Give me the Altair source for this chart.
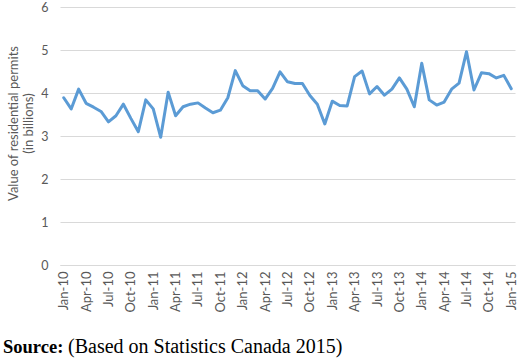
import altair as alt
import pandas as pd

# Monthly value of residential building permits, Jan 2010 - Jan 2015 (billions of dollars)
MONTHS = ["Jan", "Feb", "Mar", "Apr", "May", "Jun",
          "Jul", "Aug", "Sep", "Oct", "Nov", "Dec"]
YEARS = ["10", "11", "12", "13", "14", "15"]

values_2010 = [3.89, 3.63, 4.09, 3.76, 3.67, 3.57, 3.33, 3.47, 3.74, 3.41, 3.10, 3.84]
values_2011 = [3.63, 2.97, 4.02, 3.47, 3.68, 3.74, 3.77, 3.65, 3.54, 3.60, 3.89, 4.52]
values_2012 = [4.17, 4.05, 4.05, 3.86, 4.11, 4.49, 4.26, 4.22, 4.22, 3.94, 3.74, 3.28]
values_2013 = [3.81, 3.71, 3.70, 4.38, 4.51, 3.98, 4.15, 3.95, 4.09, 4.35, 4.09, 3.68]
values_2014 = [4.69, 3.84, 3.72, 3.79, 4.09, 4.23, 4.96, 4.07, 4.47, 4.45, 4.35, 4.41]
values_2015 = [4.10]

series = values_2010 + values_2011 + values_2012 + values_2013 + values_2014 + values_2015
labels = [f"{m}-{y}" for y in YEARS for m in MONTHS][: len(series)]
tick_labels = labels[::3]

df = pd.DataFrame({"month": labels, "value": series})

GRAY_TEXT = "#595959"
GRID = "#d9d9d9"
FONT = "Lato"

line = alt.Chart(df).mark_line(
    color="#5B9BD5", strokeWidth=3, strokeJoin="round", strokeCap="round"
).encode(
    x=alt.X(
        "month:O",
        sort=labels,
        scale=alt.Scale(type="point", padding=0.5),
        axis=alt.Axis(
            title=None,
            values=tick_labels,
            labelAngle=270,
            labelColor=GRAY_TEXT,
            labelFont=FONT,
            labelFontSize=13,
            labelPadding=6,
            ticks=False,
            domainColor=GRID,
            domainWidth=1,
            grid=False,
        ),
    ),
    y=alt.Y(
        "value:Q",
        scale=alt.Scale(domain=[0, 6], nice=False),
        axis=alt.Axis(
            title=["Value of residential permits", "(in billions)"],
            values=[0, 1, 2, 3, 4, 5, 6],
            labelColor=GRAY_TEXT,
            labelFont=FONT,
            labelFontSize=12.5,
            labelPadding=12,
            titleColor=GRAY_TEXT,
            titleFont=FONT,
            titleFontSize=13,
            titleFontWeight="normal",
            titlePadding=5,
            titleY=116,
            ticks=False,
            domain=False,
            grid=True,
            gridColor=GRID,
            gridWidth=1,
        ),
    ),
)

source_bold = alt.Chart(pd.DataFrame({"t": ["Source:"]})).mark_text(
    font="Liberation Serif", fontSize=18.5, fontWeight="bold",
    align="left", baseline="alphabetic", color="black",
).encode(x=alt.value(-57), y=alt.value(346), text="t:N")

source_text = alt.Chart(pd.DataFrame({"t": ["(Based on Statistics Canada 2015)"]})).mark_text(
    font="Liberation Serif", fontSize=20,
    align="left", baseline="alphabetic", color="black",
).encode(x=alt.value(8), y=alt.value(346), text="t:N")

chart = alt.layer(line, source_bold, source_text).properties(
    width=455,
    height=258,
    padding={"left": 60, "top": 7, "right": 5, "bottom": 95},
    autosize=alt.AutoSizeParams(type="none"),
    background="white",
).configure_view(stroke=None)

chart.save("out.html", embed_options={"renderer": "svg", "actions": False})
